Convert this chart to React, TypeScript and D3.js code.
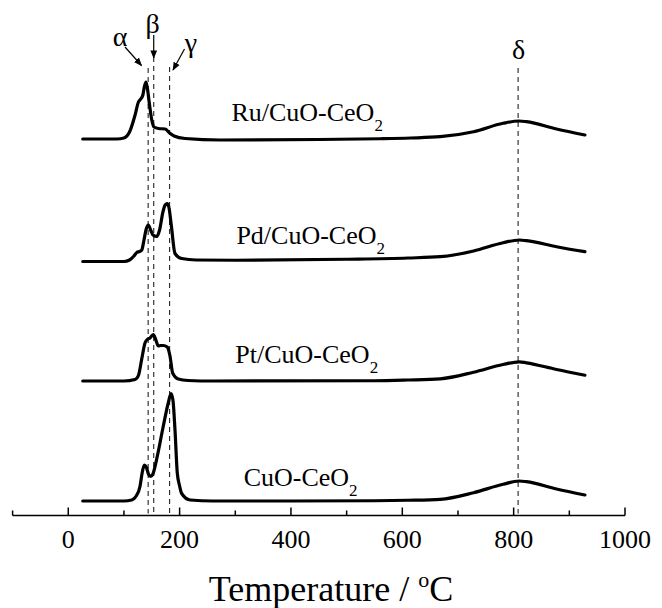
import React from "react";
import * as d3 from "d3";

// ---------- data (temperature in °C, signal in a.u. above each curve's baseline) ----------
const cuoT = [26, 60, 100, 114, 122, 128.8, 133, 136.5, 140, 144, 148, 152, 160, 170, 180, 184.5, 188, 191.7, 195.8, 200, 203.7, 219, 260, 400, 550, 610, 668, 728, 781, 810, 823, 877, 928];
const cuoS = [0, 0, 0, 0.2, 1, 2.9, 5.8, 7.2, 6.8, 5.4, 4.9, 5.4, 9, 14.6, 19.8, 21.5, 20.2, 14.2, 5.6, 3, 1.5, 0.2, 0, 0, 0.05, 0.15, 0.34, 1.66, 3.34, 4, 3.86, 2.4, 1.2];

const ptT = [26, 100, 120, 126, 131.8, 137.8, 142, 146.8, 152.7, 157, 161.7, 166, 170.6, 177.8, 182.7, 187.5, 197.6, 215, 260, 550, 610, 668, 728, 781, 810, 823, 877, 928];
const ptS = [0, 0, 0.3, 1.1, 4.3, 7.6, 8.3, 8.6, 9.3, 8.3, 7, 7.1, 7.1, 6.8, 5, 1.6, 0.4, 0.1, 0, 0.05, 0.2, 0.44, 1.76, 3.3, 3.84, 3.64, 2.3, 1.16];

const pdT = [26, 100, 110, 118, 123, 128, 132, 136, 140, 143.7, 148, 152, 158.8, 164, 170, 174, 177.8, 181, 185, 191.7, 203.7, 230, 300, 500, 610, 668, 728, 781, 810, 823, 877, 928];
const pdS = [0, 0, 0.3, 1.1, 1.8, 2, 2.3, 4.3, 6.5, 7.3, 6.3, 5.3, 5, 6.3, 9.9, 11.3, 11.6, 10.7, 7.3, 1.6, 0.6, 0.3, 0.25, 0.45, 0.7, 0.96, 2.1, 3.76, 4.3, 4.16, 2.96, 1.96];

const ruT = [26, 87, 100, 110, 120, 126, 130, 134, 137, 139.6, 142, 146, 150, 154, 162, 174, 182, 190, 210, 273, 450, 560, 615, 668, 728, 781, 810, 823, 877, 928];
const ruS = [0, 0, 0.2, 1.4, 4.8, 7.4, 8, 8.8, 10.6, 11.4, 10.2, 6.8, 3.8, 2.4, 2.1, 2, 1.2, 0.6, 0.1, -0.2, -0.1, 0.05, 0.2, 0.46, 1.46, 3.14, 3.6, 3.46, 2, 0.8];

const seriesNames = ["CuO-CeO", "Pt/CuO-CeO", "Pd/CuO-CeO", "Ru/CuO-CeO"];
const seriesOffsets = [0, 24, 47.9, 72.4];
const labelTemps = [315, 300, 302, 293];
const labelLevels = [3, 3.7, 3.5, 3.7];

const refLines = [
  { sym: "α", T: 143.5 },
  { sym: "β", T: 153.5 },
  { sym: "γ", T: 182 },
  { sym: "δ", T: 808 },
];

const majorTicks = [0, 200, 400, 600, 800, 1000];
const minorTicks = [-100, 100, 300, 500, 700, 900];

export default function App() {
  const W = 662, H = 608;
  const x = d3.scaleLinear().domain([-100, 1000]).range([12.6, 625]);
  const y = d3.scaleLinear().domain([0, 100]).range([501, 1]);
  const axisY = 515.5;
  const font = "'Liberation Serif', 'Times New Roman', serif";

  const series = [
    { T: cuoT, S: cuoS },
    { T: ptT, S: ptS },
    { T: pdT, S: pdS },
    { T: ruT, S: ruS },
  ];

  const line = d3
    .line<[number, number]>()
    .x((d) => x(d[0]))
    .y((d) => y(d[1]))
    .curve(d3.curveMonotoneX);

  const dashTop: Record<string, number> = { α: 68, β: 57, γ: 67, δ: 68 };
  const labelPos: Record<string, [number, number]> = {
    α: [120, 46],
    β: [152.5, 33],
    γ: [191, 52],
    δ: [518.5, 59],
  };

  const arrows = [
    { x1: 125, y1: 47, x2: 141.5, y2: 65.5 },
    { x1: x(153.5), y1: 35, x2: x(153.5), y2: 58 },
    { x1: 184.5, y1: 49, x2: 173, y2: 70 },
  ];

  return (
    <svg
      width={W}
      height={H}
      style={{ position: "absolute", left: 0, top: 0, background: "#fff" }}
      fontFamily={font}
    >
      <defs>
        <marker id="ah" viewBox="0 0 10 10" refX="9" refY="5" markerWidth="7" markerHeight="7" orient="auto">
          <path d="M0,1 L10,5 L0,9 z" fill="#000" />
        </marker>
      </defs>

      {/* reference dashed lines */}
      {refLines.map((r) => (
        <line
          key={r.sym}
          x1={x(r.T)}
          x2={x(r.T)}
          y1={dashTop[r.sym]}
          y2={axisY - 2}
          stroke="#222"
          strokeWidth={1.1}
          strokeDasharray="5,4"
        />
      ))}

      {/* curves */}
      {series.map((s, i) => (
        <path
          key={i}
          d={line(s.T.map((t, k) => [t, s.S[k] + seriesOffsets[i]] as [number, number])) || ""}
          fill="none"
          stroke="#000"
          strokeWidth={3.2}
          strokeLinejoin="round"
          strokeLinecap="round"
        />
      ))}

      {/* curve labels */}
      {seriesNames.map((n, i) => (
        <text
          key={n}
          x={x(labelTemps[i])}
          y={y(seriesOffsets[i] + labelLevels[i])}
          fontSize={26}
          fill="#000"
        >
          {n}
          <tspan fontSize={17} dy={10}>2</tspan>
        </text>
      ))}

      {/* greek labels */}
      {refLines.map((r) => (
        <text
          key={"l" + r.sym}
          x={labelPos[r.sym][0]}
          y={labelPos[r.sym][1]}
          fontSize={28}
          textAnchor="middle"
          fill="#000"
        >
          {r.sym}
        </text>
      ))}

      {/* arrows */}
      {arrows.map((a, i) => (
        <line
          key={"a" + i}
          x1={a.x1}
          y1={a.y1}
          x2={a.x2}
          y2={a.y2}
          stroke="#000"
          strokeWidth={1.2}
          markerEnd="url(#ah)"
        />
      ))}

      {/* x axis */}
      <line x1={x(-100)} x2={x(1000)} y1={axisY} y2={axisY} stroke="#000" strokeWidth={1.5} />
      {majorTicks.map((t) => (
        <g key={"M" + t}>
          <line x1={x(t)} x2={x(t)} y1={axisY} y2={axisY - 8} stroke="#000" strokeWidth={1.5} />
          <text x={x(t)} y={548} fontSize={26} textAnchor="middle" fill="#000">
            {t}
          </text>
        </g>
      ))}
      {minorTicks.map((t) => (
        <line key={"m" + t} x1={x(t)} x2={x(t)} y1={axisY} y2={axisY - 5} stroke="#000" strokeWidth={1.5} />
      ))}

      <text x={331} y={601} fontSize={36} textAnchor="middle" fill="#000">
        Temperature / <tspan fontSize={22} dy={-14}>o</tspan>
        <tspan dy={14}>C</tspan>
      </text>
    </svg>
  );
}
